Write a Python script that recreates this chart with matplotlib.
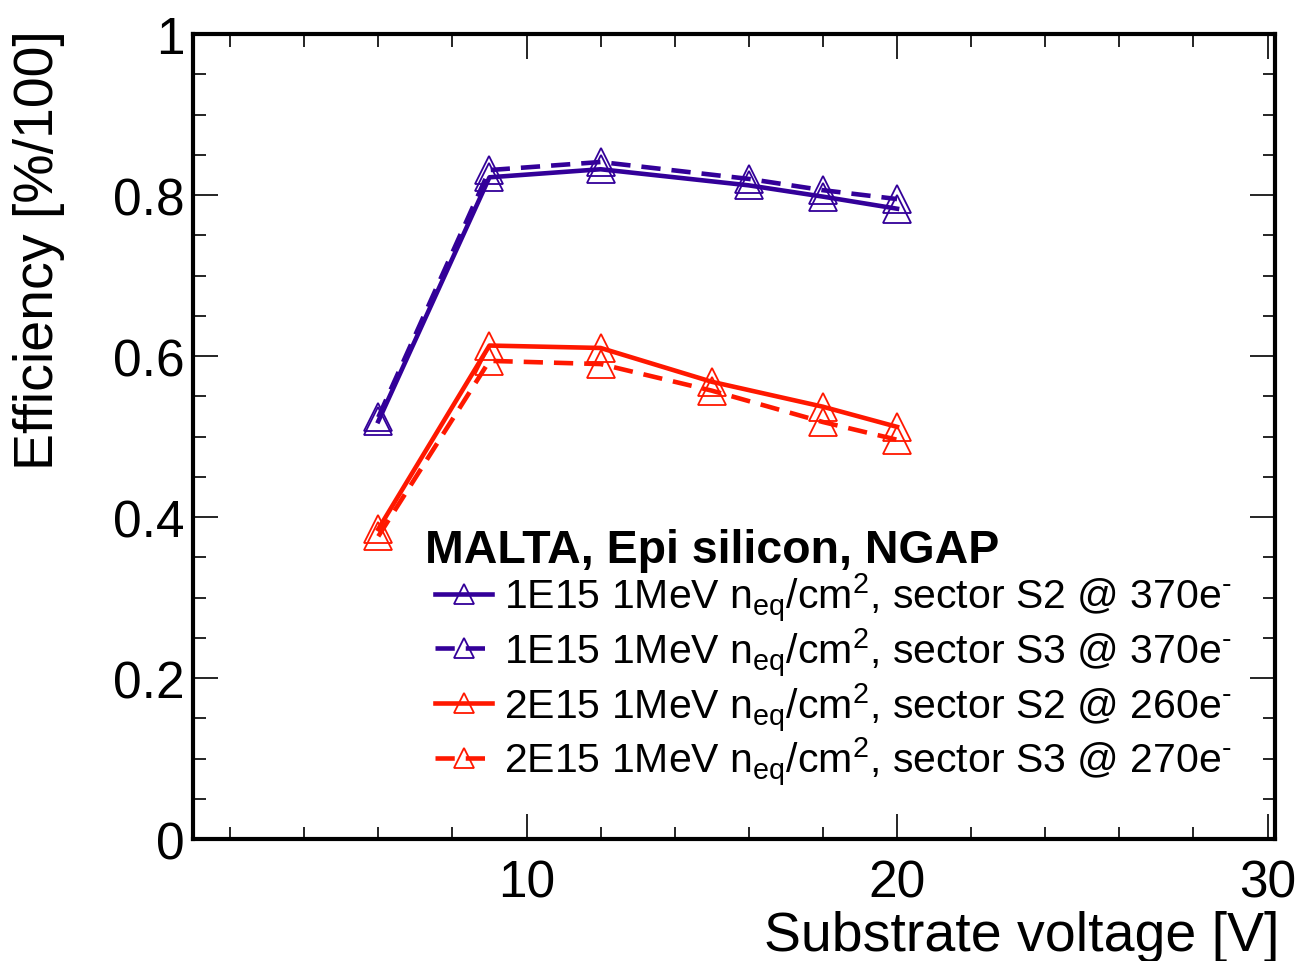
import numpy as np
import matplotlib
matplotlib.use("Agg")
import matplotlib.pyplot as plt
from matplotlib.ticker import MultipleLocator

plt.rcParams['font.family'] = ['Liberation Sans', 'DejaVu Sans']
plt.rcParams['mathtext.fontset'] = 'custom'
plt.rcParams['mathtext.rm'] = 'Liberation Sans'
plt.rcParams['mathtext.it'] = 'Liberation Sans:italic'
plt.rcParams['mathtext.bf'] = 'Liberation Sans:bold'

# data
v_1e15 = [6, 9, 12, 16, 18, 20]
eff_1e15_s2 = [0.519, 0.822, 0.832, 0.812, 0.798, 0.783]
eff_1e15_s3 = [0.524, 0.831, 0.841, 0.820, 0.806, 0.795]

v_2e15 = [6, 9, 12, 15, 18, 20]
eff_2e15_s2 = [0.385, 0.613, 0.610, 0.568, 0.537, 0.512]
eff_2e15_s3 = [0.376, 0.594, 0.590, 0.557, 0.518, 0.496]

header = 'MALTA, Epi silicon, NGAP'
labels = [
    r'1E15 1MeV n$_{\mathrm{eq}}$/cm$^{2}$, sector S2 @ 370e$^{\text{-}}$',
    r'1E15 1MeV n$_{\mathrm{eq}}$/cm$^{2}$, sector S3 @ 370e$^{\text{-}}$',
    r'2E15 1MeV n$_{\mathrm{eq}}$/cm$^{2}$, sector S2 @ 260e$^{\text{-}}$',
    r'2E15 1MeV n$_{\mathrm{eq}}$/cm$^{2}$, sector S3 @ 270e$^{\text{-}}$',
]

blue = '#330099'
red = '#ff1800'

fig = plt.figure(figsize=(12.99, 9.62), dpi=100)
ax = fig.add_axes([0.1486, 0.1268, 0.8329, 0.8368])

mk = dict(marker='^', markersize=20, markerfacecolor='none', markeredgewidth=1.3)
ax.plot(v_1e15, eff_1e15_s2, color=blue, lw=3.3, label=labels[0], **mk)
ax.plot(v_1e15, eff_1e15_s3, color=blue, lw=3.3, dashes=(4.2, 2.4), label=labels[1], **mk)
ax.plot(v_2e15, eff_2e15_s2, color=red, lw=3.3, label=labels[2], **mk)
ax.plot(v_2e15, eff_2e15_s3, color=red, lw=3.3, dashes=(4.2, 2.4), label=labels[3], **mk)

ax.set_xlim(1, 30.2)
ax.set_ylim(0, 1)
ax.xaxis.set_major_locator(MultipleLocator(10))
ax.xaxis.set_minor_locator(MultipleLocator(2))
ax.yaxis.set_minor_locator(MultipleLocator(0.05))
ax.set_yticks([0, 0.2, 0.4, 0.6, 0.8, 1.0])
ax.set_yticklabels(['0', '0.2', '0.4', '0.6', '0.8', '1'])

ax.tick_params(which='both', direction='in', top=True, right=True, width=1.2,
               labelsize=37)
ax.tick_params(which='major', length=18)
ax.tick_params(which='minor', length=9)
ax.tick_params(axis='x', pad=14)
ax.tick_params(axis='y', pad=6)
for s in ax.spines.values():
    s.set_linewidth(3)

ax.set_xlabel('Substrate voltage [V]', fontsize=40, loc='right')
ax.xaxis.set_label_coords(1.004, -0.088)
ax.set_ylabel('Efficiency [%/100]', fontsize=40, loc='top')
ax.yaxis.set_label_coords(-0.118, 1.006)

# legend header and entries
ax.text(0.2144, 0.344, header, transform=ax.transAxes, fontsize=33.5,
        fontweight='bold', va='baseline', ha='left')
leg = ax.legend(loc='center left', bbox_to_anchor=(0.2237, 0.199), frameon=False,
                fontsize=29.5, handlelength=1.4, handletextpad=0.29,
                labelspacing=0.05, borderaxespad=0, borderpad=0,
                markerscale=0.75)

fig.savefig('out.png', dpi=100)
